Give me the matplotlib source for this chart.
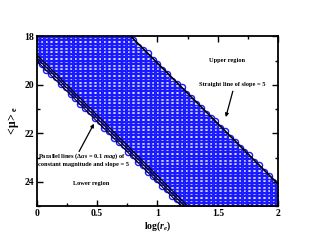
import numpy as np
import matplotlib
matplotlib.use("Agg")
import matplotlib.pyplot as plt
from matplotlib.ticker import MultipleLocator

plt.rcParams['font.family'] = ['Liberation Serif', 'DejaVu Serif']
plt.rcParams['font.weight'] = 'bold'
plt.rcParams['mathtext.fontset'] = 'custom'
plt.rcParams['mathtext.rm'] = 'Liberation Serif:bold'
plt.rcParams['mathtext.it'] = 'Liberation Serif:italic:bold'
plt.rcParams['mathtext.bf'] = 'Liberation Serif:bold'

# data
slope = 5.0
upper_intercept = 14.1
parallel_intercepts = [18.75, 18.88, 19.01]
grid_step_x = 0.04
grid_step_y = 0.14
x_range = [0.0, 2.0]
y_range = [18.0, 25.0]

gx = np.arange(x_range[0], x_range[1] + 1e-6, grid_step_x)
gy = np.arange(y_range[0], y_range[1] + 1e-6, grid_step_y)
GX, GY = np.meshgrid(gx, gy)
mask = (GY >= slope * GX + upper_intercept) & (GY <= slope * GX + parallel_intercepts[-1])
px, py = GX[mask], GY[mask]

fig = plt.figure(figsize=(3.14, 2.43), dpi=100)
ax = fig.add_axes([0.117, 0.152, 0.769, 0.698])

ax.plot(px, py, 'o', ms=4.4, mfc='none', mec='#1a1aff', mew=1.0, clip_on=True, zorder=2)

xl = np.array(x_range)
ax.plot(xl, slope * xl + upper_intercept, color='black', lw=1.2, zorder=3)
for b in parallel_intercepts:
    ax.plot(xl, slope * xl + b, color='black', lw=0.8, zorder=3)

ax.set_xlim(*x_range)
ax.set_ylim(25, 18)
ax.xaxis.set_major_locator(MultipleLocator(0.5))
ax.xaxis.set_minor_locator(MultipleLocator(0.25))
ax.yaxis.set_major_locator(MultipleLocator(2))
ax.yaxis.set_minor_locator(MultipleLocator(1))
ax.set_xticks([0, 0.5, 1, 1.5, 2])
ax.set_xticklabels(['0', '0.5', '1', '1.5', '2'])
ax.tick_params(which='both', direction='in', top=True, right=True, labelsize=7, width=1.0, pad=2)
ax.tick_params(which='major', length=4)
ax.tick_params(which='minor', length=2.5)
for s in ax.spines.values():
    s.set_linewidth(1.3)
for lab in ax.get_xticklabels() + ax.get_yticklabels():
    lab.set_fontweight('bold')

ax.set_xlabel(r'log($r_e$)', fontsize=7, fontweight='bold', labelpad=1)
ax.set_ylabel(r'$\mathbf{<\!\mu\!>_e}$', fontsize=8.5, fontweight='bold', labelpad=2)

fs = 4.6
ax.text(1.58, 19.0, 'Upper region', fontsize=fs, ha='center', va='center', fontweight='bold')
ax.text(1.62, 20.0, 'Straight line of slope = 5', fontsize=fs, ha='center', va='center', fontweight='bold')
ax.annotate('', xy=(1.56, 21.44), xytext=(1.63, 20.15),
            arrowprops=dict(arrowstyle='-|>', color='black', lw=0.9, mutation_scale=5))
ax.text(0.012, 22.95, r'Parallel lines ($\Delta\alpha_0$ = 0.1 $mag$) of', fontsize=fs, ha='left', va='center', fontweight='bold')
ax.text(0.012, 23.3, 'constant magnitude and slope = 5', fontsize=fs, ha='left', va='center', fontweight='bold')
ax.annotate('', xy=(0.485, 21.5), xytext=(0.34, 22.85),
            arrowprops=dict(arrowstyle='-|>', color='black', lw=0.9, mutation_scale=5))
ax.text(0.45, 24.07, 'Lower region', fontsize=fs, ha='center', va='center', fontweight='bold')

fig.savefig('out.png', dpi=100)
